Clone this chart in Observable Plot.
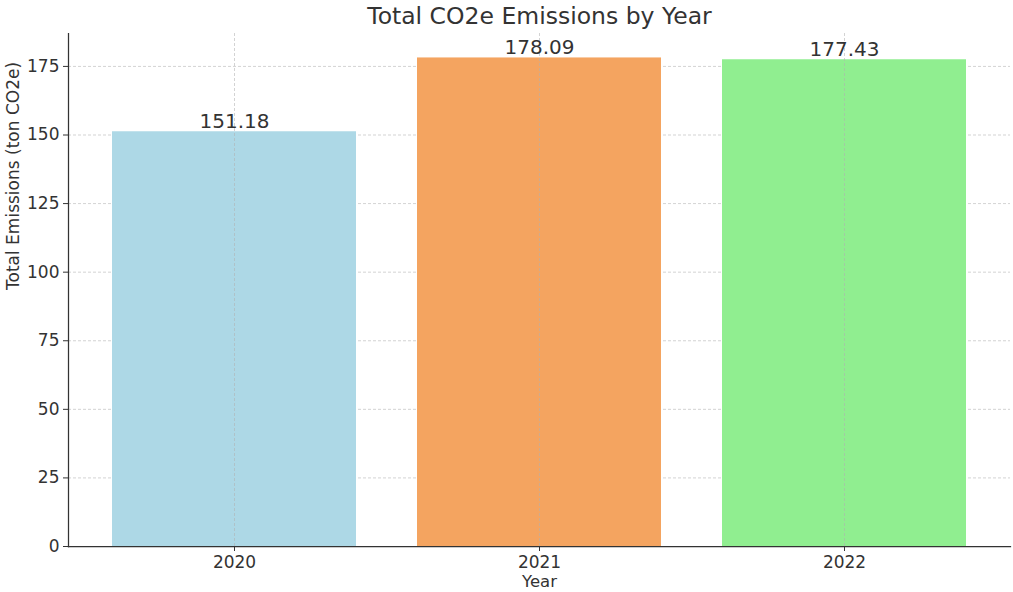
<!DOCTYPE html>
<html>
<head>
<meta charset="utf-8">
<script src="https://cdn.jsdelivr.net/npm/d3@7"></script>
<script src="https://cdn.jsdelivr.net/npm/@observablehq/plot@0.6"></script>
<style>
  body { margin: 0; background: #fff; }
  #chart { width: 1013px; height: 592px; }
</style>
</head>
<body>
<div id="chart"></div>
<script>
const years = ["2020", "2021", "2022"];
const emissions = [151.18, 178.09, 177.43];
const barColors = ["#ADD8E6", "#F4A460", "#90EE90"];
const yTicks = [0, 25, 50, 75, 100, 125, 150, 175];
const titleText = "Total CO2e Emissions by Year";
const xLabel = "Year";
const yLabel = "Total Emissions (ton CO2e)";

const data = years.map((y, i) => ({year: y, value: emissions[i], color: barColors[i]}));
const font = "DejaVu Sans, sans-serif";
const ink = "#333333";

const chart = Plot.plot({
  width: 1013,
  height: 592,
  marginTop: 33,
  marginBottom: 46,
  marginLeft: 68,
  marginRight: 3,
  style: {fontFamily: font, background: "#fff", color: ink},
  x: {type: "band", domain: years, paddingInner: 0.2, paddingOuter: 0.14, align: 0.5, label: null},
  y: {domain: [0, 187], label: null},
  marks: [
    Plot.gridY(yTicks, {stroke: "#b0b0b0", strokeOpacity: 0.7, strokeDasharray: "3,2", strokeWidth: 0.8}),
    Plot.barY(data, {x: "year", y: "value", fill: "color"}),
    Plot.gridX(years, {stroke: "#b0b0b0", strokeOpacity: 0.7, strokeDasharray: "3,2", strokeWidth: 0.8}),
    Plot.text(data, {x: "year", y: "value", text: d => d.value.toFixed(2), lineAnchor: "bottom", dy: -4, fontSize: 20, fill: ink}),
    Plot.axisY(yTicks, {tickSize: 5, tickPadding: 4, fontSize: 17, stroke: ink, fill: ink, label: null}),
    Plot.axisX({tickSize: 5, tickPadding: 4, fontSize: 17, stroke: ink, fill: ink, label: null}),
    Plot.frame({anchor: "left", stroke: ink, strokeWidth: 1.25}),
    Plot.frame({anchor: "bottom", stroke: ink, strokeWidth: 1.25}),
    Plot.text([titleText], {frameAnchor: "top", dy: -17, lineAnchor: "middle", fontSize: 23.5, fill: ink}),
    Plot.text([xLabel], {frameAnchor: "bottom", dy: 35, lineAnchor: "middle", fontSize: 16.5, fill: ink}),
    Plot.text([yLabel], {frameAnchor: "left", dx: -55, rotate: -90, lineAnchor: "middle", fontSize: 17, fill: ink})
  ]
});
document.getElementById("chart").appendChild(chart);
</script>
</body>
</html>
